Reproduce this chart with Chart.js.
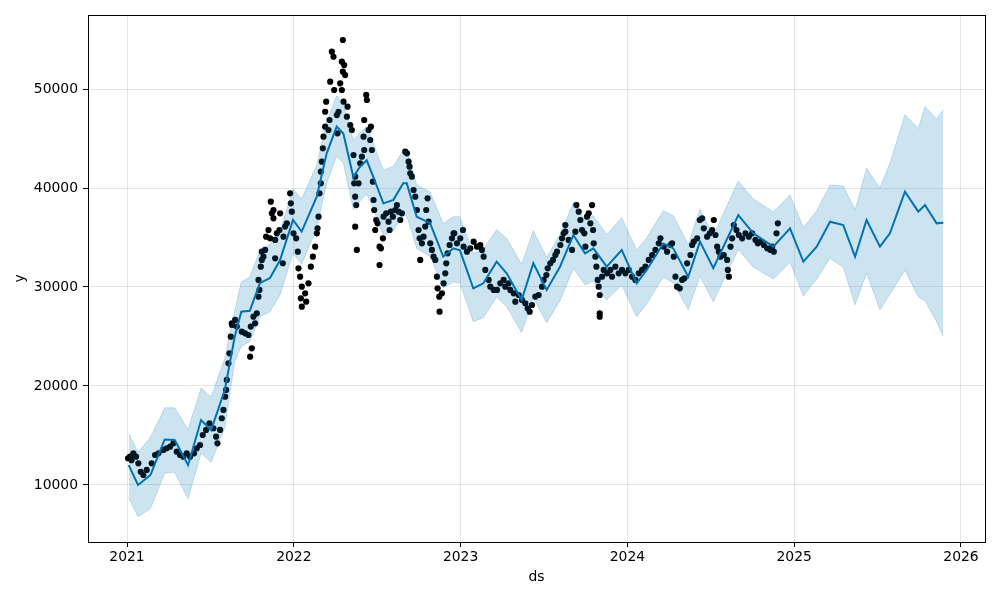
<!DOCTYPE html>
<html>
<head>
<meta charset="utf-8">
<script src="https://cdn.jsdelivr.net/npm/chart.js@4/dist/chart.umd.min.js"></script>
<style>
  html, body { margin: 0; padding: 0; background: #fff; }
  #wrap { width: 1000px; height: 600px; }
</style>
</head>
<body>
<div id="wrap"><canvas id="chart" width="1000" height="600"></canvas></div>
<script>
  "use strict";

  const xTicks = [2021, 2022, 2023, 2024, 2025, 2026];
  const yTicks = [10000, 20000, 30000, 40000, 50000];

  // forecast (yhat) with its interval, decimal years
  const fcstX = [2021.010, 2021.066, 2021.140, 2021.226, 2021.286, 2021.366, 2021.444, 2021.504, 2021.586, 2021.646,
    2021.685, 2021.736, 2021.797, 2021.857, 2021.917, 2021.995, 2022.047, 2022.137, 2022.197, 2022.257,
    2022.297, 2022.357, 2022.397, 2022.437, 2022.477, 2022.537, 2022.597, 2022.656, 2022.677, 2022.737,
    2022.817, 2022.896, 2022.956, 2022.996, 2023.076, 2023.136, 2023.216, 2023.276, 2023.366, 2023.436,
    2023.516, 2023.596, 2023.676, 2023.746, 2023.796, 2023.876, 2023.966, 2024.056, 2024.116, 2024.215,
    2024.275, 2024.365, 2024.435, 2024.515, 2024.665, 2024.755, 2024.875, 2024.975, 2025.055, 2025.135,
    2025.215, 2025.294, 2025.365, 2025.434, 2025.514, 2025.574, 2025.664, 2025.744, 2025.784, 2025.854, 2025.894];
  const yhat = [12000, 10000, 11000, 14600, 14550, 12000, 16560, 15550, 19600, 25000,
    27500, 27600, 30400, 30900, 32700, 36770, 35600, 39100, 43500, 46200,
    45500, 41100, 42150, 42800, 41100, 38450, 38800, 40470, 40470, 37100,
    36450, 33060, 33900, 33700, 29870, 30370, 32560, 31380, 28690, 32400,
    29700, 32050, 35250, 33400, 33900, 32050, 33740, 30370, 31720, 34400,
    33900, 31040, 34580, 31890, 37270, 35420, 34070, 35930, 32560, 34070,
    36600, 36260, 33060, 36770, 34070, 35420, 39630, 37610, 38280, 36430, 36500];
  const yhatUpper = [15200, 13300, 14800, 17800, 17800, 15600, 19800, 18900, 22800, 27600,
    30500, 31000, 33700, 34300, 35600, 39900, 38900, 42300, 46700, 49300,
    48500, 44800, 45600, 46200, 44500, 41800, 42200, 43800, 43700, 40300,
    39600, 36400, 37100, 37100, 33400, 33800, 35800, 34900, 32300, 35700,
    33000, 35300, 38500, 36800, 37200, 35300, 37000, 33700, 35000, 37700,
    37200, 34300, 37900, 35200, 40700, 38900, 37600, 39300, 36000, 37700,
    40300, 40200, 37800, 42000, 40000, 42500, 47400, 46000, 48200, 47000, 47900];
  const yhatLower = [8700, 6800, 7600, 11200, 11300, 8600, 13200, 12300, 15800, 22500,
    24000, 24500, 27000, 27500, 29200, 33400, 32300, 35900, 40500, 43200,
    42500, 37800, 38700, 39400, 37900, 35200, 35700, 37300, 37200, 33900,
    33100, 29900, 30500, 30400, 26500, 26900, 29000, 28000, 25400, 28900,
    26400, 28600, 31900, 30200, 30600, 28700, 30200, 27000, 28300, 31000,
    30400, 27700, 31100, 28500, 33800, 32000, 30800, 32500, 29100, 30800,
    32900, 32000, 28200, 31400, 27700, 29300, 31700, 29000, 28600, 26500, 25000];

  // observed values
  const obsX = [2021.006, 2021.018, 2021.027, 2021.038, 2021.054, 2021.068, 2021.082, 2021.098, 2021.118, 2021.148,
    2021.168, 2021.188, 2021.218, 2021.238, 2021.258, 2021.278, 2021.298, 2021.318, 2021.338, 2021.358,
    2021.378, 2021.402, 2021.418, 2021.438, 2021.454, 2021.474, 2021.494, 2021.518, 2021.534, 2021.542,
    2021.558, 2021.568, 2021.578, 2021.588, 2021.594, 2021.598, 2021.608, 2021.614, 2021.622, 2021.630,
    2021.628, 2021.648, 2021.658, 2021.688, 2021.708, 2021.728, 2021.748, 2021.738, 2021.742, 2021.758,
    2021.768, 2021.778, 2021.788, 2021.794, 2021.788, 2021.802, 2021.808, 2021.808, 2021.818, 2021.828,
    2021.834, 2021.848, 2021.858, 2021.868, 2021.862, 2021.878, 2021.878, 2021.888, 2021.888, 2021.898,
    2021.914, 2021.918, 2021.934, 2021.938, 2021.948, 2021.958, 2021.978, 2021.982, 2021.988, 2021.998,
    2022.014, 2022.024, 2022.028, 2022.038, 2022.048, 2022.042, 2022.048, 2022.068, 2022.074, 2022.088,
    2022.102, 2022.114, 2022.128, 2022.138, 2022.142, 2022.148, 2022.154, 2022.162, 2022.162, 2022.168,
    2022.174, 2022.178, 2022.188, 2022.188, 2022.194, 2022.208, 2022.214, 2022.218, 2022.228, 2022.238,
    2022.242, 2022.258, 2022.262, 2022.268, 2022.278, 2022.288, 2022.294, 2022.302, 2022.294, 2022.308,
    2022.288, 2022.298, 2022.322, 2022.318, 2022.338, 2022.348, 2022.358, 2022.368, 2022.362, 2022.368,
    2022.374, 2022.368, 2022.378, 2022.388, 2022.398, 2022.408, 2022.422, 2022.418, 2022.422, 2022.434,
    2022.438, 2022.448, 2022.458, 2022.462, 2022.468, 2022.474, 2022.478, 2022.482, 2022.488, 2022.494,
    2022.502, 2022.514, 2022.514, 2022.522, 2022.534, 2022.538, 2022.554, 2022.568, 2022.574, 2022.582,
    2022.594, 2022.608, 2022.618, 2022.628, 2022.638, 2022.648, 2022.668, 2022.678, 2022.688, 2022.694,
    2022.698, 2022.708, 2022.718, 2022.728, 2022.738, 2022.748, 2022.754, 2022.758, 2022.768, 2022.778,
    2022.788, 2022.794, 2022.802, 2022.808, 2022.818, 2022.828, 2022.838, 2022.848, 2022.858, 2022.862,
    2022.872, 2022.874, 2022.888, 2022.898, 2022.908, 2022.914, 2022.922, 2022.934, 2022.948, 2022.958,
    2022.962, 2022.978, 2022.998, 2023.014, 2023.018, 2023.038, 2023.058, 2023.078, 2023.098, 2023.118,
    2023.128, 2023.138, 2023.148, 2023.168, 2023.178, 2023.198, 2023.218, 2023.238, 2023.258, 2023.268,
    2023.288, 2023.298, 2023.318, 2023.328, 2023.348, 2023.368, 2023.388, 2023.402, 2023.414, 2023.428,
    2023.448, 2023.468, 2023.488, 2023.498, 2023.514, 2023.522, 2023.538, 2023.554, 2023.568, 2023.578,
    2023.598, 2023.608, 2023.618, 2023.628, 2023.628, 2023.648, 2023.668, 2023.688, 2023.694, 2023.708,
    2023.718, 2023.728, 2023.742, 2023.748, 2023.758, 2023.768, 2023.778, 2023.788, 2023.794, 2023.798,
    2023.808, 2023.814, 2023.822, 2023.828, 2023.834, 2023.834, 2023.834, 2023.848, 2023.858, 2023.878,
    2023.898, 2023.908, 2023.928, 2023.948, 2023.968, 2023.988, 2024.008, 2024.028, 2024.048, 2024.068,
    2024.088, 2024.108, 2024.128, 2024.148, 2024.168, 2024.188, 2024.198, 2024.218, 2024.238, 2024.258,
    2024.268, 2024.278, 2024.288, 2024.298, 2024.314, 2024.328, 2024.342, 2024.358, 2024.378, 2024.388,
    2024.398, 2024.418, 2024.434, 2024.448, 2024.458, 2024.478, 2024.494, 2024.508, 2024.518, 2024.528,
    2024.538, 2024.548, 2024.558, 2024.578, 2024.598, 2024.602, 2024.608, 2024.618, 2024.628, 2024.638,
    2024.654, 2024.668, 2024.688, 2024.708, 2024.728, 2024.748, 2024.768, 2024.782, 2024.798, 2024.818,
    2024.838, 2024.858, 2024.868, 2024.878, 2024.894, 2024.902];
  const obsY = [12700, 12860, 12500, 13200, 12860, 12190, 11340, 11010, 11520, 12190,
    13030, 13200, 13540, 13710, 13870, 14210, 13370, 13030, 12860, 13200,
    12860, 13200, 13710, 14040, 15050, 15560, 16230, 15730, 14880, 14210,
    15560, 16740, 17580, 18920, 19600, 20610, 22290, 23300, 24980, 26160,
    26330, 26670, 26000, 25490, 25320, 25150, 23810, 22960, 26000, 27000,
    26330, 27340, 29020, 29700, 30710, 32050, 32730, 33570, 33060, 33740,
    35080, 35760, 34920, 37440, 38620, 37780, 36940, 34750, 32900, 35420,
    35760, 37440, 32400, 35080, 36100, 36430, 39460, 38450, 37610, 35420,
    34920, 33570, 31890, 31040, 30030, 28860, 28010, 29360, 28520, 30370,
    32050, 33060, 34070, 35420, 35930, 37100, 39460, 40470, 41650, 42660,
    44010, 45180, 46190, 47700, 48720, 45860, 46870, 50740, 53770, 53260,
    49900, 47370, 45520, 47700, 50570, 52760, 54950, 52420, 51750, 51410,
    49900, 48720, 48210, 47200, 46360, 45860, 43330, 41140, 40470, 39120,
    38280, 36090, 33740, 40470, 42490, 43160, 43840, 45180, 46870, 49400,
    48890, 45860, 44850, 46190, 43840, 40640, 38790, 37780, 35760, 36770,
    36430, 34070, 32220, 33910, 34920, 37100, 37440, 36600, 35760, 37610,
    37100, 37780, 38280, 37610, 36770, 37440, 43670, 43500, 42660, 42150,
    41480, 41140, 39800, 39120, 37780, 35760, 34920, 32730, 34410, 35080,
    36100, 37780, 38960, 36600, 34410, 33740, 33060, 32730, 31040, 29870,
    29020, 27510, 29360, 30370, 31380, 32390, 33400, 34240, 34920, 35420,
    35420, 34410, 34920, 35760, 34070, 33570, 33910, 34580, 34070, 34240,
    33740, 33060, 31720, 30710, 30030, 29700, 29700, 30370, 30710, 30030,
    30370, 29700, 29360, 28520, 29190, 28690, 28350, 27850, 27510, 28180,
    29020, 29190, 30030, 30710, 31210, 31890, 32390, 32730, 33230, 33570,
    34240, 34920, 35420, 35590, 36260, 34750, 33740, 35590, 38280, 37610,
    36770, 35760, 35420, 34070, 37100, 37440, 36430, 38280, 35760, 34410,
    33060, 32050, 30710, 30030, 29190, 27340, 27000, 31040, 31720, 31380,
    31720, 31040, 32050, 31380, 31720, 31380, 31720, 31040, 30710, 31380,
    31720, 32050, 32730, 33230, 33740, 34410, 34920, 34070, 33570, 34240,
    34410, 33060, 31040, 30030, 29870, 30710, 30880, 32390, 33230, 34240,
    34580, 34920, 36770, 36940, 35930, 35080, 35420, 35760, 36770, 35250,
    34070, 33570, 33060, 33230, 32730, 31720, 31040, 34070, 34920, 36260,
    35760, 35250, 34920, 35420, 35080, 35420, 34750, 34410, 34580, 34240,
    33910, 33740, 34070, 33570, 35420, 36430];

  const BLUE = "#0072B2";
  const BAND = "rgba(0, 114, 178, 0.2)";
  const FONT = { family: "'DejaVu Sans', sans-serif", size: 13.9 };

  const pts = (xs, ys) => xs.map((x, i) => ({ x, y: ys[i] }));

  // top and right spines, matplotlib style
  const frame = {
    id: "frame",
    afterDraw(chart) {
      const { ctx, chartArea: a } = chart;
      ctx.save();
      ctx.strokeStyle = "#000";
      ctx.lineWidth = 1;
      ctx.strokeRect(Math.round(a.left) + 0.5, Math.round(a.top) + 0.5, Math.round(a.right - a.left), Math.round(a.bottom - a.top));
      ctx.restore();
    }
  };

  new Chart(document.getElementById("chart"), {
    type: "line",
    data: {
      datasets: [
        { label: "upper", data: pts(fcstX, yhatUpper), borderColor: BAND, backgroundColor: BAND, borderWidth: 1, pointRadius: 0, fill: "+1", tension: 0 },
        { label: "lower", data: pts(fcstX, yhatLower), borderColor: BAND, borderWidth: 1, pointRadius: 0, fill: false, tension: 0 },
        { label: "yhat", data: pts(fcstX, yhat), borderColor: BLUE, borderWidth: 2, pointRadius: 0, fill: false, tension: 0 },
        { label: "y", data: pts(obsX, obsY), showLine: false, pointRadius: 3.1, pointBackgroundColor: "#000", pointBorderWidth: 0, borderColor: "#000" }
      ]
    },
    options: {
      responsive: false,
      animation: false,
      events: [],
      layout: { padding: { top: 15, right: 15, left: 0, bottom: 0 } },
      plugins: { legend: { display: false }, tooltip: { enabled: false } },
      scales: {
        x: {
          type: "linear",
          min: 2020.766,
          max: 2026.144,
          afterBuildTicks: (scale) => { scale.ticks = xTicks.map((value) => ({ value })); },
          afterFit: (scale) => { scale.height = 58; },
          ticks: { color: "#000", font: FONT, padding: 2, maxRotation: 0, callback: (v) => String(v) },
          grid: { color: "rgba(128,128,128,0.2)", lineWidth: 1, tickLength: 5, tickColor: "#000" },
          border: { display: true, color: "#000", width: 1 },
          title: { display: true, text: "ds", color: "#000", font: FONT, padding: { top: 0, bottom: 14 } }
        },
        y: {
          min: 4242,
          max: 57475,
          afterBuildTicks: (scale) => { scale.ticks = yTicks.map((value) => ({ value })); },
          afterFit: (scale) => { scale.width = 88; },
          ticks: { color: "#000", font: FONT, padding: 5, callback: (v) => String(v) },
          grid: { color: "rgba(128,128,128,0.2)", lineWidth: 1, tickLength: 5, tickColor: "#000" },
          border: { display: true, color: "#000", width: 1 },
          title: { display: true, text: "y", color: "#000", font: FONT, padding: { top: 12, bottom: 0 } }
        }
      }
    },
    plugins: [frame]
  });
</script>
</body>
</html>
